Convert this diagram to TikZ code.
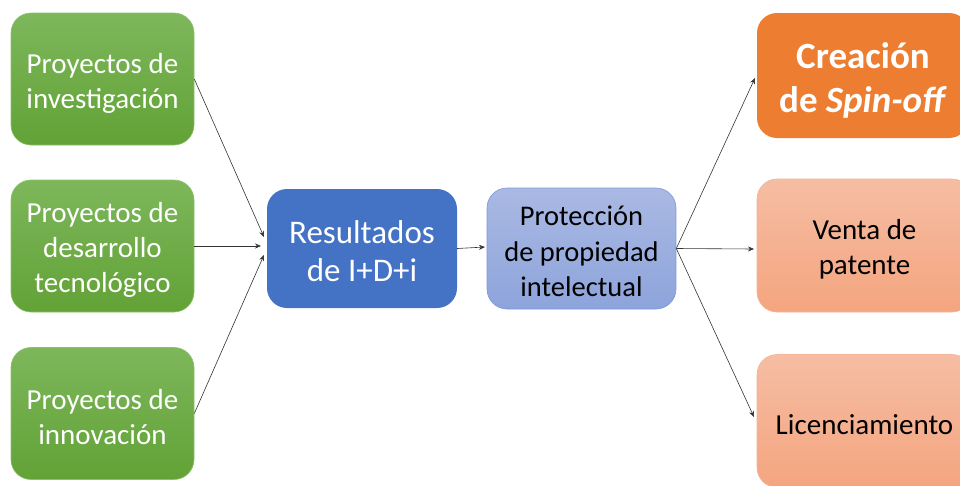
\documentclass[tikz,border=0pt]{standalone}
\usepackage{fontspec}
\setmainfont{Carlito}
\usetikzlibrary{arrows.meta}
\definecolor{gtop}{HTML}{7DB75B}
\definecolor{gbot}{HTML}{62A236}
\definecolor{gedge}{HTML}{8CC16C}
\definecolor{blu}{HTML}{4472C4}
\definecolor{lbtop}{HTML}{AAB9E3}
\definecolor{lbbot}{HTML}{8DA4DB}
\definecolor{lbedge}{HTML}{7E98D8}
\definecolor{orn}{HTML}{ED7D31}
\definecolor{lotop}{HTML}{F6BDA3}
\definecolor{lobot}{HTML}{F4A57F}
\definecolor{loedge}{HTML}{F3B699}
\definecolor{arr}{HTML}{333333}
\tikzset{
  box/.style={rounded corners=20pt, inner sep=0pt},
  greenbox/.style={box, top color=gtop, bottom color=gbot, draw=gedge, line width=0.6pt,
    minimum width=183pt, minimum height=132pt},
  bluebox/.style={box, fill=blu, minimum width=190pt, minimum height=119pt},
  lbluebox/.style={box, top color=lbtop, bottom color=lbbot, draw=lbedge, line width=0.6pt,
    minimum width=189pt, minimum height=121pt},
  orbox/.style={box, fill=orn, minimum width=212pt, minimum height=125pt},
  lobox/.style={box, top color=lotop, bottom color=lobot, draw=loedge, line width=0.6pt,
    minimum width=215pt, minimum height=133pt},
  txt/.style={align=center, inner sep=0pt},
  gtext/.style={txt, text=white, font=\fontsize{29}{35}\selectfont},
  btext/.style={txt, text=white, font=\fontsize{33}{38}\selectfont},
  lbtext/.style={txt, text=black, font=\fontsize{28.5}{35.5}\selectfont},
  otext/.style={txt, text=white, font=\fontsize{37}{44.5}\selectfont\bfseries},
  lotext/.style={txt, text=black, font=\fontsize{29}{35.5}\selectfont},
  conn/.style={draw=arr, line width=0.6pt, -{Stealth[length=6pt,width=5pt]}}
}
\begin{document}
\begin{tikzpicture}[x=1pt,y=-1pt]
\useasboundingbox (0,0) rectangle (960,485);
\clip (0,0) rectangle (960,485);
\fill[white] (0,0) rectangle (960,485);
\node[greenbox] (g1) at (102.5,79) {};
\node[greenbox] (g2) at (102.5,246) {};
\node[greenbox] (g3) at (102.5,413.5) {};
\node[bluebox] (r) at (362,248.5) {};
\node[lbluebox] (p) at (581.5,248.5) {};
\node[orbox] (s) at (863,75.5) {};
\node[lobox] (v) at (864.5,245.5) {};
\node[lobox] (l) at (864.5,421) {};
\node[gtext] (g1t) at ([shift={(0,4)}]g1.center) {Proyectos de\\investigación};
\node[gtext] (g2t) at ([shift={(0,4)}]g2.center) {Proyectos de\\desarrollo\\tecnológico};
\node[gtext] (g3t) at ([shift={(0,4)}]g3.center) {Proyectos de\\innovación};
\node[btext] (rt) at ([shift={(0,3)}]r.center) {Resultados\\de I+D+i};
\node[lbtext] (pt) at ([shift={(0,3)}]p.center) {Protección\\de propiedad\\intelectual};
\node[otext] (st) at ([shift={(0,5)}]s.center) {Creación\\de \textit{Spin-off}};
\node[lotext] (vt) at ([shift={(0,4)}]v.center) {Venta de\\patente};
\node[lotext] (lt) at ([shift={(0,4)}]l.center) {Licenciamiento};
\coordinate (t1) at (264,237);
\coordinate (t2) at (261,246);
\coordinate (t3) at (264,255);
\draw[conn] (g1.east) -- (t1);
\draw[conn] (g2.east) -- (t2);
\draw[conn] (g3.east) -- (t3);
\coordinate (tp) at (485,247);
\draw[conn] (r.east) -- (tp);
\coordinate (ts) at (755,78);
\coordinate (tv) at (754,249);
\coordinate (tl) at (754,417);
\draw[conn] (p.east) -- (ts);
\draw[conn] (p.east) -- (tv);
\draw[conn] (p.east) -- (tl);
\end{tikzpicture}
\end{document}
